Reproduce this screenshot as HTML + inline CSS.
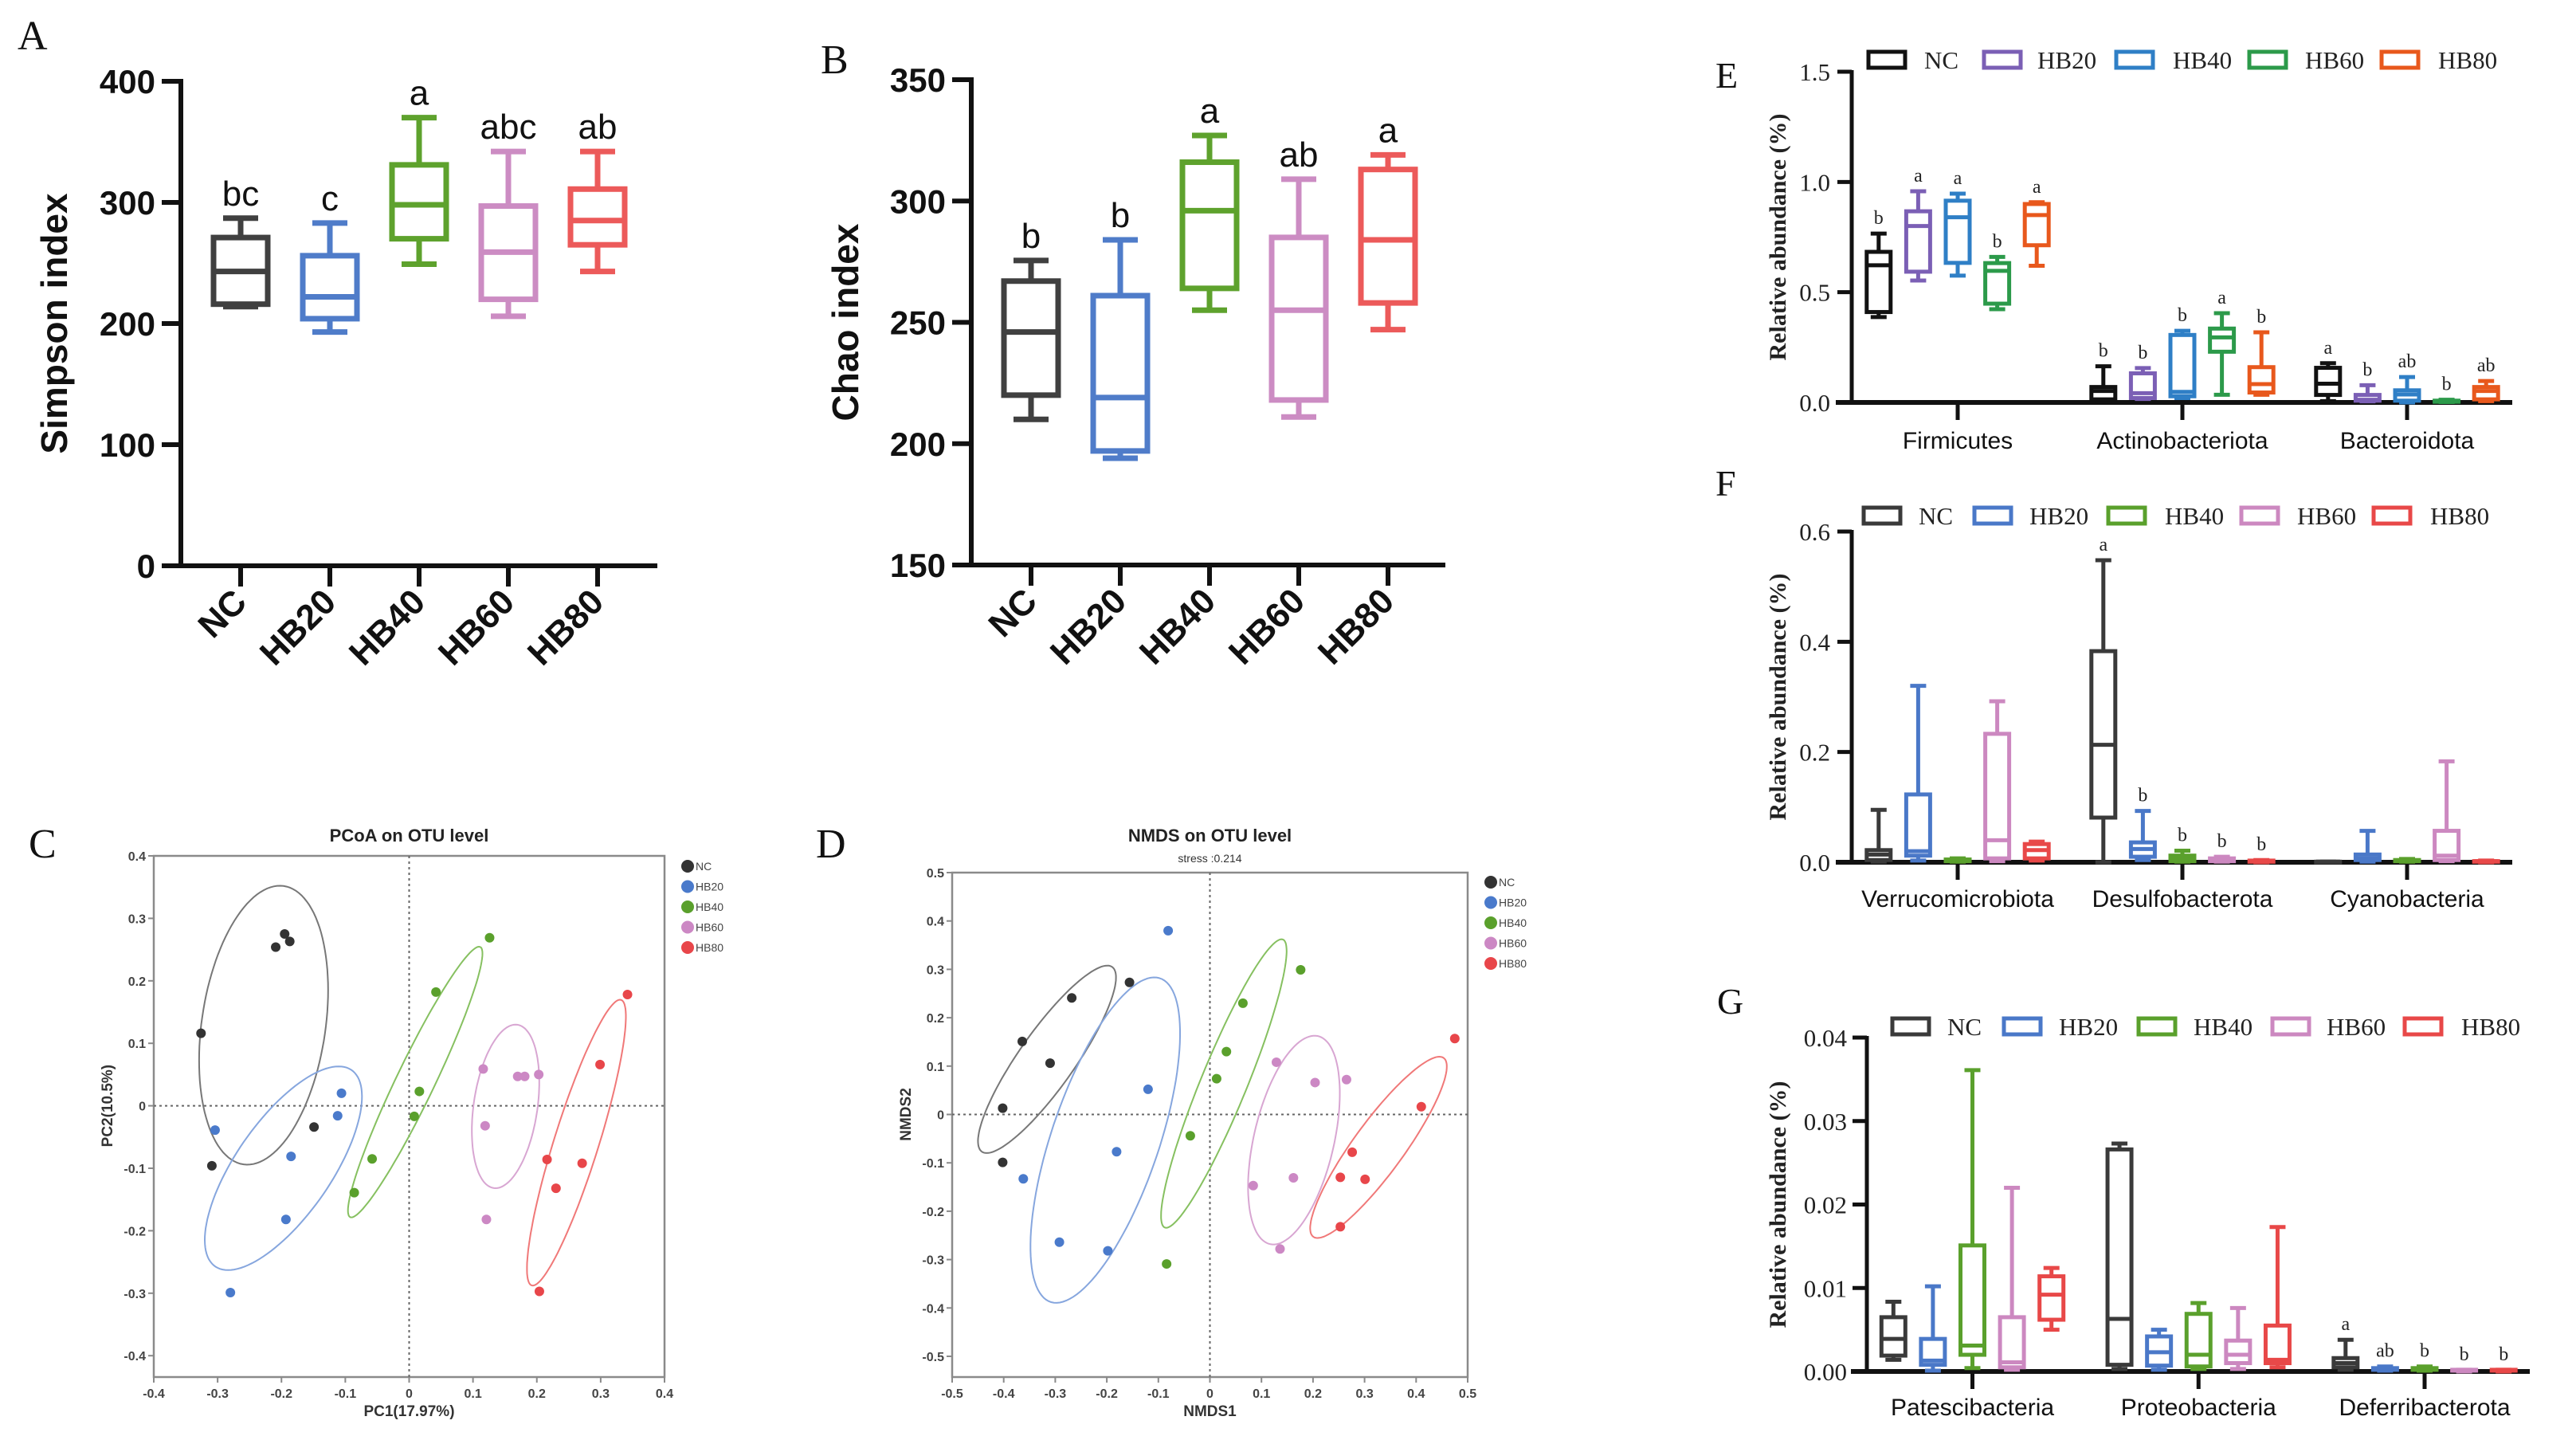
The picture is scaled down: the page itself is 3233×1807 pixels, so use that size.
<!DOCTYPE html>
<html><head><meta charset="utf-8"><style>
html,body{margin:0;padding:0;background:#fff;}
svg{display:block;}
</style></head><body>
<svg id="fig" xmlns="http://www.w3.org/2000/svg" width="3233" height="1807" viewBox="0 0 3233 1807">
<rect x="0" y="0" width="3233" height="1807" fill="#fff"/>
<g font-family="Liberation Serif, serif" font-size="52" fill="#111">
<text x="22" y="62">A</text>
<text x="1030" y="92">B</text>
<text x="36" y="1076">C</text>
<text x="1024" y="1076">D</text>
<text x="2153" y="110" font-size="46">E</text>
<text x="2153" y="622" font-size="46">F</text>
<text x="2155" y="1272" font-size="46">G</text>
</g>
</svg>
<script>
// ---------- DATA ----------
const groups = ['NC','HB20','HB40','HB60','HB80'];
// Panel A: [min,q1,median,q3,max]
const simpsonStats = [[214,216,243,271,287],[193,204,222,256,283],[249,270,298,331,370],[206,220,259,297,342],[243,265,285,311,342]];
const simpsonLetters = ['bc','c','a','abc','ab'];
const simpsonTicks = [0,100,200,300,400];
// Panel B
const chaoStats = [[210,220,246,267,275.5],[194,197,219,261,284],[255,264,296,316,327],[211,218,255,285,309],[247,258,284,313,319]];
const chaoLetters = ['b','b','a','ab','a'];
const chaoTicks = [150,200,250,300,350];
// Panel E
const eCategories = ['Firmicutes','Actinobacteriota','Bacteroidota'];
const eStats = [
 [[0.387,0.41,0.622,0.683,0.766],[0.553,0.593,0.80,0.867,0.958],[0.575,0.633,0.84,0.915,0.947],[0.423,0.448,0.597,0.632,0.66],[0.62,0.713,0.85,0.90,0.908]],
 [[0.005,0.014,0.052,0.07,0.164],[0.016,0.02,0.042,0.132,0.156],[0.02,0.028,0.048,0.306,0.325],[0.035,0.23,0.295,0.335,0.405],[0.035,0.045,0.083,0.16,0.318]],
 [[0.006,0.034,0.085,0.157,0.178],[0.005,0.008,0.012,0.034,0.078],[0.0,0.008,0.036,0.055,0.115],[0.002,0.003,0.005,0.008,0.012],[0.006,0.014,0.052,0.07,0.097]]];
const eLetters = [['b','a','a','b','a'],['b','b','b','a','b'],['a','b','ab','b','ab']];
const eTicks = ['0.0','0.5','1.0','1.5'];
// Panel F
const fCategories = ['Verrucomicrobiota','Desulfobacterota','Cyanobacteria'];
const fStats = [
 [[0.001,0.004,0.014,0.022,0.095],[0.003,0.012,0.02,0.123,0.32],[0.001,0.002,0.004,0.005,0.007],[0.002,0.007,0.04,0.233,0.292],[0.003,0.007,0.022,0.033,0.0375]],
 [[0.0,0.081,0.213,0.383,0.548],[0.004,0.01,0.024,0.036,0.093],[0.001,0.002,0.007,0.012,0.021],[0.001,0.002,0.004,0.007,0.01],[0.0,0.001,0.002,0.003,0.004]],
 [[0.0,0.0,0.001,0.001,0.001],[0.001,0.004,0.007,0.014,0.057],[0.001,0.002,0.003,0.004,0.006],[0.002,0.004,0.012,0.057,0.183],[0.0,0.001,0.002,0.002,0.003]]];
const fLetters = [['','','','',''],['a','b','b','b','b'],['','','','','']];
const fTicks = ['0.0','0.2','0.4','0.6'];
// Panel G
const gCategories = ['Patescibacteria','Proteobacteria','Deferribacterota'];
const gStats = [
 [[0.0014,0.0019,0.0039,0.0065,0.00835],[0.0001,0.0008,0.0013,0.0039,0.0102],[0.0004,0.002,0.0031,0.0151,0.0361],[0.0002,0.0005,0.0011,0.0065,0.022],[0.005,0.0062,0.0092,0.0114,0.0124]],
 [[0.0003,0.0008,0.0063,0.0266,0.0273],[0.0002,0.0007,0.0023,0.0042,0.005],[0.0003,0.0006,0.002,0.0069,0.0082],[0.0003,0.001,0.002,0.0037,0.0076],[0.0005,0.001,0.0014,0.0055,0.0173]],
 [[0.0002,0.0005,0.001,0.0016,0.0038],[0.0001,0.0002,0.0003,0.0004,0.0006],[0.0001,0.0002,0.0003,0.0004,0.0006],[0.0,0.0001,0.0001,0.0002,0.0002],[0.0,0.0001,0.0001,0.0002,0.0002]]];
const gLetters = [['','','','',''],['','','','',''],['a','ab','b','b','b']];
const gTicks = ['0.00','0.01','0.02','0.03','0.04'];
// Panel C (PCoA)
const pcoaX = [[-0.326,-0.309,-0.209,-0.195,-0.187,-0.149],[-0.304,-0.280,-0.193,-0.185,-0.112,-0.106],[-0.086,-0.058,0.008,0.016,0.042,0.126],[0.116,0.119,0.121,0.170,0.181,0.203],[0.204,0.216,0.230,0.271,0.299,0.342]];
const pcoaY = [[0.116,-0.096,0.254,0.275,0.263,-0.034],[-0.039,-0.299,-0.182,-0.081,-0.016,0.020],[-0.139,-0.085,-0.017,0.023,0.182,0.269],[0.059,-0.032,-0.182,0.047,0.047,0.050],[-0.297,-0.086,-0.132,-0.092,0.066,0.178]];
// ellipse: [cx, cy, semi-major, semi-minor, angle deg]
const pcoaEllipses = [[-0.228,0.129,0.225,0.097,82],[-0.197,-0.100,0.19,0.075,56],[0.0095,0.038,0.239,0.03,64.8],[0.151,-0.001,0.132,0.05,82],[0.262,-0.059,0.239,0.035,73]];
const pcoaTicks = [-0.4,-0.3,-0.2,-0.1,0,0.1,0.2,0.3,0.4];
// Panel D (NMDS)
const nmdsX = [[-0.402,-0.402,-0.364,-0.310,-0.268,-0.156],[-0.362,-0.292,-0.198,-0.181,-0.120,-0.081],[-0.084,-0.038,0.013,0.032,0.064,0.176],[0.084,0.136,0.162,0.129,0.204,0.265],[0.253,0.253,0.276,0.301,0.410,0.475]];
const nmdsY = [[0.013,-0.099,0.151,0.106,0.241,0.273],[-0.133,-0.264,-0.282,-0.077,0.052,0.380],[-0.309,-0.044,0.074,0.130,0.230,0.299],[-0.147,-0.278,-0.131,0.108,0.066,0.072],[-0.232,-0.130,-0.078,-0.134,0.016,0.157]];
const nmdsEllipses = [[-0.316,0.114,0.229,0.055,56.7],[-0.203,-0.053,0.351,0.105,72.6],[0.027,0.064,0.319,0.045,69],[0.163,-0.053,0.22,0.078,78],[0.327,-0.068,0.224,0.05,55.8]];
const nmdsTicks = [-0.5,-0.4,-0.3,-0.2,-0.1,0,0.1,0.2,0.3,0.4,0.5];

// ---------- helpers ----------
const NS='http://www.w3.org/2000/svg';
const svg=document.getElementById('fig');
function mk(tag,attrs,parent){const e=document.createElementNS(NS,tag);for(const k in attrs)e.setAttribute(k,attrs[k]);(parent||svg).appendChild(e);return e;}
function txt(str,attrs,parent){const e=mk('text',attrs,parent);e.textContent=str;return e;}

const colAB=['#404040','#4f7cc9','#5ea22d','#cc8cc3','#ec5a5a'];
const colE=['#111111','#7b5fb5','#2f7fc6','#2c9a4a','#e8581c'];
const colFG=['#3a3a3a','#4a78c8','#5aa02c','#cc88c0','#e84848'];
const colPt=['#333333','#4a7acb','#5aa02c','#cc88c4','#e8464a'];
const colEl=['#777777','#86a6de','#86c060','#d8a6d2','#f07878'];

function drawBox(parent,cx,hw,cap,s,yf,color,sw,name){
  const g=mk('g',{stroke:color,'stroke-width':sw,fill:'none','stroke-linecap':'butt'},parent);
  
  
  mk('line',{x1:cx,x2:cx,y1:yf(s[4]),y2:yf(s[3])},g);
  mk('line',{x1:cx,x2:cx,y1:yf(s[1]),y2:yf(s[0])},g);
  mk('line',{x1:cx-cap,x2:cx+cap,y1:yf(s[4]),y2:yf(s[4])},g);
  mk('line',{x1:cx-cap,x2:cx+cap,y1:yf(s[0]),y2:yf(s[0])},g);
  const top=yf(s[3]),bot=yf(s[1]);
  mk('rect',{x:cx-hw,y:top,width:2*hw,height:Math.max(bot-top,0.5)},g);
  mk('line',{x1:cx-hw,x2:cx+hw,y1:yf(s[2]),y2:yf(s[2])},g);
}

// ---------- Panels A & B ----------
function alphaPanel(id,stats,letters,ticks,x0,xStep,axisX,yTop,yBot,vMin,vMax,xEnd,title,titleX){
  const p=mk('g',{});
  
  
  const yf=v=>yBot-(v-vMin)/(vMax-vMin)*(yBot-yTop);
  const xf=i=>x0+i*xStep;
  mk('line',{x1:axisX,x2:axisX,y1:yTop-3,y2:yBot+3,stroke:'#111','stroke-width':6},p);
  mk('line',{x1:axisX-24,x2:xEnd,y1:yBot,y2:yBot,stroke:'#111','stroke-width':6},p);
  ticks.forEach(t=>{
    mk('line',{x1:axisX-24,x2:axisX,y1:yf(t),y2:yf(t),stroke:'#111','stroke-width':6},p);
    const tl=txt(String(t),{x:axisX-32,y:yf(t)+15,'text-anchor':'end','font-family':'Liberation Sans, sans-serif','font-weight':'bold','font-size':42,fill:'#111'},p);
    
    
  });
  stats.forEach((s,i)=>{
    const cx=xf(i);
    mk('line',{x1:cx,x2:cx,y1:yBot,y2:yBot+26,stroke:'#111','stroke-width':6},p);
    drawBox(p,cx,34,22,s,yf,colAB[i],7,'box-'+groups[i].toLowerCase());
    const lt=txt(letters[i],{x:cx,y:yf(s[4])-16,'text-anchor':'middle','font-family':'Liberation Sans, sans-serif','font-size':44,fill:'#111'},p);
    
    
    const xl=txt(groups[i],{x:0,y:0,'text-anchor':'end','font-family':'Liberation Sans, sans-serif','font-weight':'bold','font-size':44,fill:'#111',transform:'translate('+(cx+10)+','+(yBot+48)+') rotate(-45)'},p);
    
    
  });
  const yt=txt(title,{x:0,y:0,'text-anchor':'middle','font-family':'Liberation Sans, sans-serif','font-weight':'bold','font-size':46,fill:'#111',transform:'translate('+titleX+','+((yTop+yBot)/2)+') rotate(-90)'},p);
  
  
}
alphaPanel('simpson',simpsonStats,simpsonLetters,simpsonTicks,302,112,227,102,710,0,400,825,'Simpson index',84);
alphaPanel('chao',chaoStats,chaoLetters,chaoTicks,1294,112,1219,100,709,150,350,1814,'Chao index',1077);

// ---------- Panels E F G ----------
function abundPanel(id,cats,stats,letters,ticks,vMax,axisX,yTop,yBot,xEnd,c0,cStep,colors,legY,legBoxX,legTextX,catY,tickRight){
  const p=mk('g',{});
  
  
  const yf=v=>yBot-v/vMax*(yBot-yTop);
  const xf=(g,s)=>c0+g*cStep+(s-2)*49.6;
  mk('line',{x1:axisX,x2:axisX,y1:yTop-2,y2:yBot+2,stroke:'#111','stroke-width':5},p);
  mk('line',{x1:axisX-20,x2:xEnd,y1:yBot,y2:yBot,stroke:'#111','stroke-width':6},p);
  ticks.forEach(t=>{
    const v=parseFloat(t);
    mk('line',{x1:axisX-18,x2:axisX,y1:yf(v),y2:yf(v),stroke:'#111','stroke-width':5},p);
    const tl=txt(t,{x:tickRight,y:yf(v)+11,'text-anchor':'end','font-family':'Liberation Serif, serif','font-size':31,fill:'#222'},p);
    
    
  });
  cats.forEach((c,g)=>{
    const cx=xf(g,2);
    mk('line',{x1:cx,x2:cx,y1:yBot,y2:yBot+22,stroke:'#111','stroke-width':5},p);
    const cl=txt(c,{x:cx,y:catY,'text-anchor':'middle','font-family':'Liberation Sans, sans-serif','font-size':30,fill:'#111'},p);
    
    
    stats[g].forEach((s,i)=>{
      drawBox(p,xf(g,i),15,10,s,yf,colors[i],5,'box-'+c.toLowerCase()+'-'+groups[i].toLowerCase());
      if(letters[g][i]){
        const lt=txt(letters[g][i],{x:xf(g,i),y:yf(s[4])-12,'text-anchor':'middle','font-family':'Liberation Serif, serif','font-size':24,fill:'#222'},p);
        
        
      }
    });
  });
  const yt=txt('Relative abundance (%)',{x:0,y:0,'text-anchor':'middle','font-family':'Liberation Serif, serif','font-weight':'bold','font-size':30,fill:'#222',transform:'translate(2241,'+((yTop+yBot)/2)+') rotate(-90)'},p);
  
  
  groups.forEach((gname,i)=>{
    const lg=mk('g',{},p);
    
    
    mk('rect',{x:legBoxX[i],y:legY-10,width:46,height:20,fill:'none',stroke:colors[i],'stroke-width':5},lg);
    txt(gname,{x:legTextX[i],y:legY+11,'font-family':'Liberation Serif, serif','font-size':31,fill:'#222'},lg);
  });
}
abundPanel('panel-e',eCategories,eStats,eLetters,eTicks,1.5,2324,90,505,3153,2457,282,colE,75,[2345,2490,2656,2823,2989],[2415,2557,2727,2893,3060],563,2297);
abundPanel('panel-f',fCategories,fStats,fLetters,fTicks,0.6,2324,667,1082,3153,2457,282,colFG,647,[2339,2478,2646,2813,2979],[2408,2547,2717,2883,3050],1138,2297);
abundPanel('panel-g',gCategories,gStats,gLetters,gTicks,0.04,2343,1302,1721,3175,2475.5,283.75,colFG,1288,[2375,2515,2684,2852,3018],[2444,2584,2753,2920,3089],1776,2318);

// ---------- Panels C D ----------
function ordPanel(id,xs,ys,ells,ticks,left,right,top,bottom,vMinX,vMaxX,vTopY,pxPerY,title,sub,xTitle,yTitle,legX,legY0){
  const p=mk('g',{});
  
  
  const xf=v=>left+(v-vMinX)/(vMaxX-vMinX)*(right-left);
  const yf=v=>top+(vTopY-v)*pxPerY;
  mk('rect',{x:left,y:top,width:right-left,height:bottom-top,fill:'none',stroke:'#8a8a8a','stroke-width':2.5},p);
  mk('line',{x1:xf(0),x2:xf(0),y1:top,y2:bottom,stroke:'#666','stroke-width':2,'stroke-dasharray':'3,4'},p);
  mk('line',{x1:left,x2:right,y1:yf(0),y2:yf(0),stroke:'#666','stroke-width':2,'stroke-dasharray':'3,4'},p);
  ticks.forEach(t=>{
    const lab=(t===0?'0':t.toFixed(1));
    if(yf(t)>=top-1&&yf(t)<=bottom){
      mk('line',{x1:left-7,x2:left,y1:yf(t),y2:yf(t),stroke:'#8a8a8a','stroke-width':2},p);
      const tl=txt(lab,{x:left-10,y:yf(t)+6,'text-anchor':'end','font-family':'Liberation Sans, sans-serif','font-size':16,'font-weight':'bold',fill:'#444'},p);
      
      
    }
    mk('line',{x1:xf(t),x2:xf(t),y1:bottom,y2:bottom+7,stroke:'#8a8a8a','stroke-width':2},p);
    const xl=txt(lab,{x:xf(t),y:bottom+26,'text-anchor':'middle','font-family':'Liberation Sans, sans-serif','font-size':16,'font-weight':'bold',fill:'#444'},p);
    
    
  });
  ells.forEach((e,i)=>{
    const th=e[4]*Math.PI/180;let d='';
    for(let k=0;k<=120;k++){const t=k/120*2*Math.PI;
      const dx=e[2]*Math.cos(t)*Math.cos(th)-e[3]*Math.sin(t)*Math.sin(th);
      const dy=e[2]*Math.cos(t)*Math.sin(th)+e[3]*Math.sin(t)*Math.cos(th);
      d+=(k?'L':'M')+xf(e[0]+dx).toFixed(1)+','+yf(e[1]+dy).toFixed(1);}
    const el=mk('path',{d:d+'Z',fill:'none',stroke:colEl[i],'stroke-width':2},p);
    
    
  });
  xs.forEach((row,i)=>row.forEach((v,j)=>{
    const c=mk('circle',{cx:xf(v),cy:yf(ys[i][j]),r:6,fill:colPt[i]},p);
    
    
  }));
  const mid=(left+right)/2;
  const tt=txt(title,{x:mid,y:1056,'text-anchor':'middle','font-family':'Liberation Sans, sans-serif','font-size':22,'font-weight':'bold',fill:'#222'},p);
  
  
  if(sub){const st=txt(sub,{x:mid,y:1082,'text-anchor':'middle','font-family':'Liberation Sans, sans-serif','font-size':14,fill:'#333'},p);
    
    }
  const xt=txt(xTitle,{x:mid,y:1777,'text-anchor':'middle','font-family':'Liberation Sans, sans-serif','font-size':19,'font-weight':'bold',fill:'#333'},p);
  
  
  const yt=txt(yTitle,{x:0,y:0,'text-anchor':'middle','font-family':'Liberation Sans, sans-serif','font-size':19,'font-weight':'bold',fill:'#333',transform:'translate('+(left-52)+','+yf(0)+') rotate(-90)'},p);
  
  
  groups.forEach((g,i)=>{
    const lg=mk('g',{},p);
    
    
    mk('circle',{cx:legX,cy:legY0+i*25.5,r:8,fill:colPt[i]},lg);
    txt(g,{x:legX+10,y:legY0+i*25.5+5,'font-family':'Liberation Sans, sans-serif','font-size':14,fill:'#444'},lg);
  });
}
ordPanel('pcoa',pcoaX,pcoaY,pcoaEllipses,pcoaTicks,193,834,1074,1728,-0.4,0.4,0.4,784,'PCoA on OTU level','', 'PC1(17.97%)','PC2(10.5%)',863,1087);
ordPanel('nmds',nmdsX,nmdsY,nmdsEllipses,nmdsTicks,1195,1842,1095,1728,-0.5,0.5,0.5,607,'NMDS on OTU level','stress :0.214','NMDS1','NMDS2',1871,1107);
</script>
</body></html>
